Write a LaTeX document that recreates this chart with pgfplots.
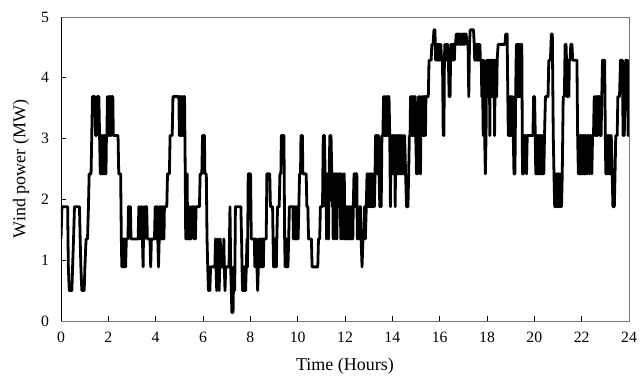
\documentclass[border=0pt]{standalone}
\usepackage{fontspec}
\setmainfont{Liberation Serif}
\usepackage{pgfplots}
\pgfplotsset{compat=1.18}
\begin{document}
\begin{tikzpicture}
\begin{axis}[
  scale only axis,
  width=426pt, height=228pt,
  xmin=0, xmax=24, ymin=0, ymax=5,
  xtick={0,2,...,24}, ytick={0,1,2,3,4,5},
  tick pos=left,
  tick align=inside,
  major tick length=3.75pt,
  axis line style={draw=black!55, line width=0.6pt},
  tick style={black, line width=0.6pt},
  /pgf/number format/assume math mode=true,
  tick label style={font=\fontsize{11.8}{13}\selectfont},
  label style={font=\fontsize{13.5}{15}\selectfont},
  xticklabel shift=5pt,
  yticklabel shift=5.5pt,
  xlabel={Time (Hours)},
  ylabel={Wind power (MW)},
  x label style={at={(axis description cs:0.5,-0.15)}, anchor=center},
  y label style={at={(axis description cs:-0.0705,0.5)}, anchor=center},
]
\addplot[black, line width=2.1pt, line join=round] coordinates {
(0,1.35)(0.04,1.88)(0.28,1.88)(0.31,0.89)(0.35,0.5)(0.46,0.5)(0.49,0.89)(0.53,1.35)(0.57,1.88)(0.78,1.88)(0.81,1.35)(0.84,0.89)(0.88,0.5)(0.98,0.5)(1.01,0.89)(1.06,1.35)(1.12,1.35)(1.16,1.88)(1.19,2.42)(1.27,2.42)(1.3,3.05)(1.33,3.69)(1.43,3.69)(1.46,3.05)(1.5,3.05)(1.53,3.69)(1.6,3.69)(1.63,3.05)
(1.66,2.42)(1.68,3.05)(1.7,2.42)(1.72,3.05)(1.74,2.42)(1.76,3.05)(1.78,2.42)(1.8,3.05)(1.82,2.42)(1.84,3.05)(1.86,2.42)(1.88,3.05)(1.9,2.42)(1.92,3.05)(1.94,3.05)(1.96,3.69)(1.98,3.05)(2.0,3.69)(2.02,3.05)(2.04,3.69)(2.06,3.05)(2.08,3.69)(2.1,3.69)(2.12,3.05)(2.14,3.69)(2.19,3.69)(2.21,3.05)(2.41,3.05)(2.44,2.42)(2.52,2.42)(2.55,1.35)(2.57,0.89)(2.59,1.35)(2.61,0.89)(2.63,1.35)(2.65,0.89)(2.67,1.35)(2.69,0.89)(2.71,1.35)(2.73,0.89)(2.76,1.35)(2.83,1.35)(2.85,1.88)(2.93,1.88)(2.96,1.35)(3.26,1.35)(3.29,1.88)(3.32,1.35)(3.35,1.88)(3.38,1.35)(3.41,1.88)(3.44,1.35)(3.47,0.89)(3.5,1.88)(3.53,1.35)(3.56,1.88)(3.62,1.88)(3.65,1.35)(3.76,1.35)(3.79,0.89)(3.82,1.35)(3.95,1.35)(3.98,1.88)
(4.01,1.35)(4.03,1.88)(4.05,1.35)(4.07,1.88)(4.09,1.35)(4.12,0.89)(4.15,1.35)(4.17,1.88)(4.19,1.35)(4.21,1.88)(4.23,1.35)(4.25,1.88)(4.27,1.35)(4.29,1.88)(4.31,1.35)(4.33,1.88)(4.35,1.35)(4.37,1.88)(4.47,1.88)(4.5,2.42)(4.58,2.42)(4.61,3.05)(4.7,3.05)(4.73,3.69)(4.98,3.69)(5.0,3.05)(5.02,3.69)(5.04,3.05)(5.06,3.69)(5.08,3.05)(5.1,3.69)(5.12,3.05)(5.14,3.69)(5.16,3.05)(5.18,3.69)(5.22,3.69)(5.25,2.42)(5.27,1.35)(5.29,2.42)(5.31,1.35)(5.33,2.42)(5.35,1.35)(5.37,1.88)(5.39,1.35)(5.41,1.88)(5.43,1.35)(5.45,1.88)(5.47,1.35)(5.5,1.35)(5.53,1.88)(5.6,1.88)(5.63,1.35)(5.66,1.88)(5.68,1.35)(5.71,1.88)(5.85,1.88)(5.88,2.42)(5.95,2.42)(5.98,3.05)(6.06,3.05)(6.08,2.42)(6.14,2.42)(6.17,1.35)(6.2,0.89)(6.23,0.5)(6.26,0.89)(6.29,0.5)(6.32,0.89)(6.5,0.89)(6.53,1.35)(6.55,0.89)(6.58,0.5)(6.61,0.89)(6.63,1.35)(6.65,0.89)(6.68,0.5)(6.71,0.89)(6.73,1.35)(6.75,0.89)(6.85,0.89)(6.88,1.35)(6.9,0.89)(6.93,0.5)(6.96,0.89)(7.1,0.89)(7.14,1.88)(7.17,0.89)(7.22,0.14)(7.27,0.14)(7.3,0.89)(7.34,0.5)(7.37,1.88)(7.6,1.88)(7.63,1.35)(7.65,0.89)(7.67,0.5)(7.69,0.89)(7.71,0.5)(7.73,0.89)(7.75,0.5)(7.77,0.89)(7.8,0.5)(7.83,0.89)(7.86,1.35)(7.88,0.89)(7.91,2.42)(8.01,2.42)(8.04,1.35)
(8.17,1.35)(8.19,0.89)(8.21,1.35)(8.23,0.89)(8.25,1.35)(8.28,0.89)(8.31,0.5)(8.34,0.89)(8.36,1.35)(8.38,0.89)(8.4,1.35)(8.42,0.89)(8.44,1.35)(8.47,0.89)(8.49,1.35)(8.51,0.89)(8.53,1.35)(8.55,0.89)(8.57,1.35)(8.67,1.35)(8.7,2.42)(8.82,2.42)(8.85,1.88)(8.94,1.88)(8.96,1.35)(8.98,0.89)(9.0,1.35)(9.02,0.89)(9.04,1.35)(9.06,0.89)(9.08,1.35)(9.1,0.89)(9.12,1.35)(9.15,1.88)(9.22,1.88)(9.25,2.42)(9.29,2.42)(9.31,3.05)(9.42,3.05)(9.45,1.35)(9.47,0.89)(9.49,1.35)(9.51,0.89)(9.53,1.35)(9.55,0.89)(9.57,1.35)(9.59,0.89)(9.62,1.35)(9.65,1.88)(9.8,1.88)(9.82,1.35)(9.84,1.88)(9.86,1.35)(9.88,1.88)(9.9,1.35)(9.92,1.88)(9.94,1.35)(9.96,1.88)(9.98,1.35)(10.0,1.88)(10.02,1.35)(10.05,1.88)(10.08,2.42)(10.12,2.42)(10.14,3.05)(10.2,3.05)(10.22,2.42)(10.36,2.42)(10.39,1.88)(10.43,1.88)(10.46,1.35)(10.58,1.35)(10.61,0.89)(10.85,0.89)(10.88,1.35)(10.93,1.35)(10.96,1.88)(11.05,1.88)(11.08,3.05)(11.13,3.05)(11.16,2.42)(11.18,1.88)(11.2,2.42)(11.22,1.35)(11.24,2.42)(11.26,1.88)(11.28,2.42)(11.3,1.35)(11.33,2.42)(11.36,3.05)(11.41,3.05)(11.44,2.42)(11.46,1.88)(11.48,2.42)(11.5,1.35)(11.52,2.42)(11.54,1.88)(11.56,2.42)(11.58,1.35)(11.6,2.42)(11.62,1.88)(11.64,2.42)(11.66,1.35)(11.68,2.42)(11.7,1.88)(11.72,2.42)(11.74,1.88)
(11.76,2.42)(11.8,2.42)(11.82,1.35)(11.84,2.42)(11.86,1.88)(11.88,1.35)(11.9,1.88)(11.92,1.35)(11.94,2.42)(11.97,2.42)(11.99,1.35)(12.01,1.88)(12.03,1.35)(12.05,1.88)(12.07,1.35)(12.09,1.88)(12.11,1.35)(12.13,1.88)(12.16,1.35)(12.18,1.88)(12.2,1.35)(12.22,1.88)(12.24,1.35)(12.26,1.88)(12.28,1.35)(12.3,1.88)(12.33,1.35)(12.35,1.88)(12.38,2.42)(12.42,2.42)(12.44,1.88)(12.46,2.42)(12.5,2.42)(12.52,1.35)(12.55,1.88)(12.58,1.35)(12.62,1.88)(12.66,1.88)(12.68,1.35)(12.72,0.89)(12.76,1.35)(12.8,1.35)(12.83,1.88)(12.86,1.35)(12.9,1.88)(12.93,2.42)(12.95,1.88)(12.97,2.42)(12.99,1.88)(13.01,2.42)(13.03,1.88)(13.05,2.42)(13.07,1.88)(13.09,2.42)(13.11,1.88)(13.13,2.42)(13.15,1.88)(13.17,2.42)(13.19,1.88)(13.21,2.42)(13.24,1.88)(13.27,2.42)(13.29,3.05)(13.34,3.05)(13.36,2.42)(13.38,3.05)(13.42,3.05)(13.44,2.42)(13.47,1.88)(13.5,2.42)(13.53,1.88)(13.56,3.05)(13.6,3.05)(13.63,3.69)(13.65,3.05)(13.67,3.69)(13.69,3.05)(13.71,3.69)(13.73,3.05)(13.75,3.69)(13.77,3.05)(13.79,3.69)(13.81,3.05)(13.83,3.69)(13.86,3.69)(13.89,3.05)(13.92,1.88)(13.94,3.05)(13.96,2.42)(13.98,3.05)(14.0,2.42)(14.02,3.05)(14.04,2.42)(14.06,3.05)(14.08,2.42)(14.1,3.05)(14.12,1.88)(14.15,3.05)(14.17,2.42)(14.19,3.05)(14.21,2.42)(14.23,3.05)(14.25,2.42)(14.27,3.05)(14.29,2.42)(14.31,3.05)(14.33,2.42)(14.35,3.05)(14.37,2.42)(14.4,3.05)(14.43,2.42)(14.46,3.05)(14.49,2.42)(14.52,3.05)(14.56,2.42)(14.6,1.88)(14.66,1.88)(14.69,2.42)(14.72,3.05)(14.75,3.05)(14.77,3.69)(14.79,3.05)(14.81,3.69)(14.83,3.05)(14.85,3.69)(14.87,3.05)(14.89,3.69)(14.91,3.05)(14.93,3.69)(14.95,3.05)(14.97,3.69)(14.99,3.05)(15.02,2.42)(15.05,3.05)(15.08,2.42)(15.11,3.69)(15.13,3.05)(15.15,3.69)(15.17,3.05)(15.19,2.42)(15.22,3.69)(15.24,3.05)(15.26,3.69)(15.28,3.05)(15.3,3.69)(15.32,3.05)(15.34,3.69)(15.36,3.05)(15.38,3.69)(15.4,3.05)(15.42,3.69)(15.52,3.69)(15.55,4.29)(15.64,4.29)(15.67,4.55)(15.72,4.55)(15.76,4.79)(15.8,4.79)(15.83,4.29)
(15.85,4.55)(15.87,4.29)(15.89,4.55)(15.91,4.29)(15.93,4.55)(15.95,4.29)(15.97,4.55)(15.99,4.29)(16.01,4.55)(16.03,4.29)(16.05,4.55)(16.08,4.29)(16.12,4.29)(16.15,3.05)(16.18,3.05)(16.2,4.29)(16.22,4.55)(16.24,4.29)(16.26,4.55)(16.28,4.29)(16.3,4.55)(16.32,4.29)(16.34,4.55)(16.37,4.29)(16.4,3.69)(16.44,3.69)(16.46,4.29)(16.48,4.55)(16.5,4.29)(16.52,4.55)(16.55,4.29)(16.57,4.55)(16.6,4.55)(16.62,4.29)(16.64,4.55)(16.67,4.55)(16.7,4.72)(16.72,4.55)(16.74,4.72)(16.76,4.55)(16.78,4.72)(16.8,4.55)(16.82,4.72)(16.85,4.72)(16.87,4.55)(16.9,4.55)(16.92,4.72)(16.94,4.55)(16.96,4.72)(16.98,4.55)(17.0,4.72)(17.02,4.55)(17.04,4.72)(17.06,4.55)(17.08,4.72)(17.12,4.72)(17.15,4.55)(17.2,4.55)(17.23,3.69)(17.26,4.55)(17.29,4.79)(17.43,4.79)(17.46,4.55)(17.48,4.29)(17.5,4.55)(17.52,4.29)(17.54,4.55)(17.56,4.29)(17.58,4.55)(17.6,4.29)(17.62,4.55)(17.64,4.29)(17.66,4.55)(17.68,4.29)(17.7,4.55)(17.72,4.29)(17.76,4.29)(17.78,3.69)(17.8,4.29)(17.82,3.69)(17.84,3.05)(17.86,4.29)(17.88,3.69)(17.9,3.05)(17.93,2.42)(17.96,3.05)(17.98,4.29)(18.0,3.69)(18.02,4.29)(18.04,3.69)(18.06,4.29)(18.08,3.69)(18.1,4.29)(18.12,3.05)(18.14,4.29)(18.16,3.69)(18.18,4.29)(18.2,3.69)(18.22,4.29)(18.24,3.69)(18.26,4.29)(18.28,3.69)(18.3,4.29)(18.32,3.05)(18.35,4.29)(18.37,3.69)(18.39,4.29)(18.41,3.69)(18.43,4.29)(18.47,4.55)(18.76,4.55)(18.79,4.72)(18.85,4.72)(18.88,3.69)(18.9,3.05)(18.92,3.69)(18.94,3.05)(18.96,3.69)(18.98,3.05)(19.0,3.69)(19.02,3.05)(19.04,3.69)(19.06,3.05)(19.08,3.69)(19.11,3.05)(19.14,2.42)(19.18,2.42)(19.21,3.69)(19.24,4.55)(19.26,3.69)(19.28,4.55)(19.3,3.69)(19.32,4.55)(19.34,3.69)(19.36,4.55)(19.38,3.69)(19.4,4.55)(19.42,3.69)(19.44,4.55)(19.47,4.55)(19.5,2.42)(19.55,2.42)(19.58,3.05)(19.64,3.05)(19.67,2.42)(19.7,3.05)(19.94,3.05)(19.97,3.69)(20.01,3.69)
(20.04,3.05)(20.06,2.42)(20.08,3.05)(20.1,2.42)(20.12,3.05)(20.14,2.42)(20.16,3.05)(20.18,2.42)(20.2,3.05)(20.22,2.42)(20.24,3.05)(20.26,2.42)(20.28,3.05)(20.3,2.42)(20.33,3.05)(20.35,2.42)(20.37,3.05)(20.4,2.42)(20.43,3.05)(20.47,3.69)(20.58,3.69)(20.61,4.29)(20.68,4.29)(20.72,4.72)(20.76,4.72)(20.8,3.05)(20.83,2.42)(20.86,1.88)(20.88,2.42)(20.9,1.88)(20.92,2.42)(20.94,1.88)(20.96,2.42)(20.98,1.88)(21.0,2.42)(21.02,1.88)(21.04,2.42)(21.06,1.88)(21.08,2.42)(21.1,1.88)(21.12,2.42)(21.15,1.88)(21.18,2.42)(21.22,3.69)(21.27,3.69)(21.3,4.55)(21.34,4.55)(21.36,4.29)(21.38,3.69)(21.4,4.29)(21.42,3.69)(21.44,4.29)(21.46,3.69)(21.48,4.29)(21.51,4.29)(21.54,4.55)(21.59,4.55)(21.62,4.29)(21.8,4.29)(21.83,3.05)(21.86,2.42)(21.88,3.05)(21.9,2.42)(21.92,3.05)(21.94,2.42)(21.96,3.05)(21.98,2.42)(22.0,3.05)(22.02,2.42)(22.04,3.05)(22.06,2.42)(22.08,3.05)(22.1,2.42)(22.12,3.05)(22.14,2.42)(22.16,3.05)(22.18,2.42)(22.2,3.05)(22.23,2.42)(22.26,3.05)(22.3,3.05)(22.33,2.42)(22.36,3.05)(22.4,3.05)(22.43,2.42)(22.46,3.05)(22.5,3.05)(22.53,3.69)(22.56,3.05)(22.58,3.69)(22.6,3.05)(22.62,3.69)(22.64,3.05)(22.66,3.69)(22.68,3.05)(22.7,3.69)(22.75,3.69)(22.78,3.05)(22.82,3.05)(22.85,3.69)(22.88,4.29)(22.97,4.29)(23.0,3.05)(23.02,2.42)(23.04,3.05)(23.06,2.42)(23.08,3.05)(23.1,2.42)(23.12,3.05)(23.14,2.42)(23.16,3.05)(23.18,2.42)(23.2,3.05)(23.22,2.42)(23.25,3.05)(23.29,2.42)(23.32,1.88)(23.38,1.88)(23.41,2.42)(23.44,3.05)(23.5,3.05)(23.53,3.69)(23.6,3.69)(23.64,4.29)(23.72,4.29)(23.75,3.05)(23.78,3.69)(23.8,3.05)(23.83,3.69)(23.86,4.29)(23.9,4.29)(23.92,3.69)(23.94,4.29)(23.96,3.05)(23.98,3.69)(24.0,3.69)
};
\draw[black, line width=0.6pt] (rel axis cs:0,1) -- (rel axis cs:0,0) -- (rel axis cs:1,0);
\coordinate (bl) at (rel axis cs:0,0);
\coordinate (tr) at (rel axis cs:1,1);
\end{axis}
\pgfresetboundingbox
\path ([shift={(-45.75pt,-42.75pt)}]bl) rectangle ([shift={(10.5pt,12.75pt)}]tr);
\end{tikzpicture}
\end{document}
